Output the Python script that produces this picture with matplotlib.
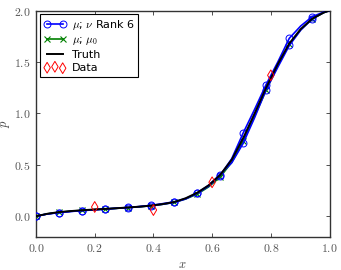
import numpy as np
import matplotlib
matplotlib.use("Agg")
import matplotlib.pyplot as plt
from matplotlib.ticker import FuncFormatter

# values
x = [0.0, 0.039, 0.078, 0.118, 0.157, 0.196, 0.235, 0.275, 0.314, 0.353,
     0.392, 0.431, 0.471, 0.510, 0.549, 0.588, 0.627, 0.667, 0.706, 0.745,
     0.784, 0.824, 0.863, 0.902, 0.941, 0.980, 1.0]
truth = [0.0, 0.024, 0.040, 0.050, 0.058, 0.065, 0.071, 0.078, 0.085, 0.093,
         0.103, 0.118, 0.138, 0.175, 0.228, 0.300, 0.400, 0.550, 0.760, 1.000,
         1.250, 1.480, 1.680, 1.820, 1.920, 1.980, 2.0]
rank6_a = [0.0, 0.022, 0.035, 0.046, 0.054, 0.062, 0.069, 0.077, 0.084, 0.094,
           0.106, 0.122, 0.140, 0.172, 0.222, 0.292, 0.395, 0.560, 0.810, 1.040,
           1.280, 1.500, 1.730, 1.850, 1.940, 1.985, 2.0]
rank6_b = [0.0, 0.022, 0.036, 0.047, 0.055, 0.063, 0.070, 0.078, 0.085, 0.093,
           0.102, 0.116, 0.134, 0.168, 0.226, 0.300, 0.405, 0.520, 0.710, 0.960,
           1.230, 1.450, 1.660, 1.810, 1.920, 1.980, 2.0]
mu0 = [0.0, 0.023, 0.038, 0.049, 0.057, 0.064, 0.070, 0.077, 0.084, 0.092,
       0.102, 0.116, 0.135, 0.168, 0.215, 0.285, 0.380, 0.525, 0.730, 0.975,
       1.225, 1.465, 1.670, 1.815, 1.918, 1.980, 2.0]
data_x = [0.2, 0.4, 0.6, 0.8]
data_y = [0.09, 0.06, 0.33, 1.37]

plt.rcParams['mathtext.fontset'] = 'cm'
plt.rcParams['font.family'] = 'DejaVu Sans'
plt.rcParams['xtick.direction'] = 'in'
plt.rcParams['ytick.direction'] = 'in'
plt.rcParams['xtick.top'] = True
plt.rcParams['ytick.right'] = True

fig = plt.figure(figsize=(3.41, 2.70), dpi=100)
ax = fig.add_axes([0.1056, 0.123, 0.8607, 0.838])

marks = slice(0, 25, 2)
ax.plot(x, mu0, color='g', lw=1.2, marker='x', ms=4, mew=0.8, markevery=marks,
        label=r'$\mu$; $\mu_0$', zorder=2)
ax.plot(x, rank6_a, color='b', lw=1.2, marker='o', ms=5, mfc='none',
        mec='b', mew=0.7, markevery=marks, label=r'$\mu$; $\nu$ Rank 6', zorder=3)
ax.plot(x, rank6_b, color='b', lw=1.2, marker='o', ms=5, mfc='none',
        mec='b', mew=0.7, markevery=marks, zorder=3)
ax.plot(x, truth, color='k', lw=1.4, label='Truth', zorder=4)
ax.scatter(data_x, data_y, marker='d', s=30, facecolors='none',
           edgecolors='r', linewidths=0.7, label='Data', zorder=5)

ax.set_xlim(0, 1)
ax.set_ylim(-0.2, 2.0)
ax.set_xticks([0.0, 0.2, 0.4, 0.6, 0.8, 1.0])
ax.set_yticks([0.0, 0.5, 1.0, 1.5, 2.0])
fmt = FuncFormatter(lambda v, p: r'$%.1f$' % v)
ax.xaxis.set_major_formatter(fmt)
ax.yaxis.set_major_formatter(fmt)
ax.tick_params(labelsize=8.5, colors='#333333', labelcolor='#555555',
               length=3, width=0.6, pad=4)
for s in ax.spines.values():
    s.set_color('#333333')
    s.set_linewidth(1.0)
ax.set_xlabel(r'$x$', fontsize=9, color='#444444', labelpad=2)
ax.set_ylabel(r'$p$', fontsize=9, color='#444444', labelpad=1)

h, l = ax.get_legend_handles_labels()
order = [1, 0, 2, 3]
leg = ax.legend([h[i] for i in order], [l[i] for i in order], loc='upper left',
                fontsize=8, numpoints=2, scatterpoints=3, fancybox=False,
                framealpha=1, edgecolor='k', borderpad=0.35, labelspacing=0.25,
                handlelength=2.0, handletextpad=0.5, borderaxespad=0.35)
leg.get_frame().set_linewidth(0.8)
leg.legend_handles[3].set_sizes([30, 30, 30])

fig.savefig('out.png', dpi=100)
